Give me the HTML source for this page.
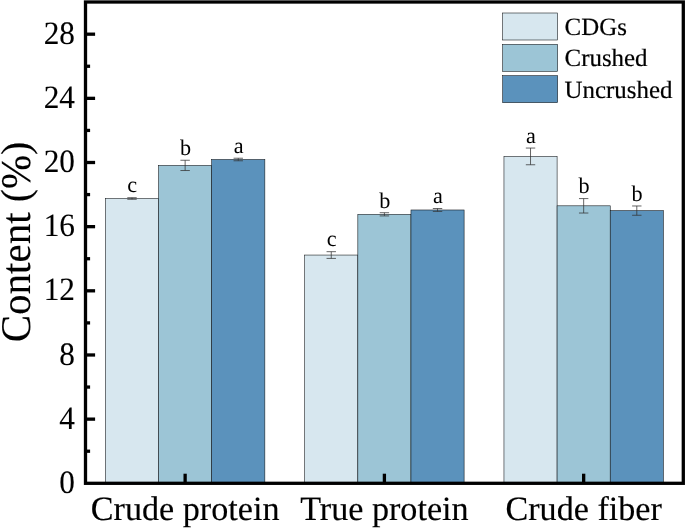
<!DOCTYPE html>
<html lang="en"><head><meta charset="utf-8"><title>Content chart</title>
<style>html,body{margin:0;padding:0;background:#fff}svg{display:block;will-change:transform}text{font-family:"Liberation Serif","DejaVu Serif",serif;fill:#000;text-rendering:geometricPrecision}</style></head><body>
<svg width="685" height="528" viewBox="0 0 685 528">
<rect x="0" y="0" width="685" height="528" fill="#fff"/>
<g stroke="#15191c" stroke-width="0.58">
<rect x="105.43" y="198.49" width="53.14" height="284.81" fill="#D7E7EF"/>
<rect x="158.56" y="165.39" width="53.14" height="317.91" fill="#9CC5D6"/>
<rect x="211.70" y="159.50" width="53.14" height="323.80" fill="#5B92BC"/>
<rect x="304.69" y="255.05" width="53.14" height="228.25" fill="#D7E7EF"/>
<rect x="357.83" y="214.31" width="53.14" height="268.99" fill="#9CC5D6"/>
<rect x="410.97" y="209.98" width="53.14" height="273.32" fill="#5B92BC"/>
<rect x="503.96" y="156.40" width="53.14" height="326.90" fill="#D7E7EF"/>
<rect x="557.10" y="205.81" width="53.14" height="277.49" fill="#9CC5D6"/>
<rect x="610.24" y="210.62" width="53.14" height="272.68" fill="#5B92BC"/>
</g>
<g stroke="#333" stroke-width="0.75" fill="none">
<path d="M132.00 197.69V199.30M127.30 197.69H136.70M127.30 199.30H136.70"/>
<path d="M185.13 160.25V170.52M180.43 160.25H189.83M180.43 170.52H189.83"/>
<path d="M238.27 158.22V160.78M233.57 158.22H242.97M233.57 160.78H242.97"/>
<path d="M331.26 251.68V258.42M326.56 251.68H335.96M326.56 258.42H335.96"/>
<path d="M384.40 212.71V215.91M379.70 212.71H389.10M379.70 215.91H389.10"/>
<path d="M437.54 208.53V211.42M432.84 208.53H442.24M432.84 211.42H442.24"/>
<path d="M530.53 148.06V164.75M525.83 148.06H535.23M525.83 164.75H535.23"/>
<path d="M583.67 198.59V213.03M578.97 198.59H588.37M578.97 213.03H588.37"/>
<path d="M636.80 205.97V215.27M632.10 205.97H641.50M632.10 215.27H641.50"/>
</g>
<g font-size="22.2" text-anchor="middle" stroke="none">
<text x="132.30" y="192.49">c</text>
<text x="185.43" y="155.05">b</text>
<text x="238.57" y="153.02">a</text>
<text x="331.56" y="246.48">c</text>
<text x="384.70" y="207.51">b</text>
<text x="437.84" y="203.33">a</text>
<text x="530.83" y="142.86">a</text>
<text x="583.97" y="193.39">b</text>
<text x="637.10" y="200.77">b</text>
</g>
<g stroke="#000" stroke-width="3.3">
<line x1="85.50" y1="451.22" x2="90.10" y2="451.22"/>
<line x1="85.50" y1="419.14" x2="95.10" y2="419.14"/>
<line x1="85.50" y1="387.06" x2="90.10" y2="387.06"/>
<line x1="85.50" y1="354.98" x2="95.10" y2="354.98"/>
<line x1="85.50" y1="322.90" x2="90.10" y2="322.90"/>
<line x1="85.50" y1="290.82" x2="95.10" y2="290.82"/>
<line x1="85.50" y1="258.74" x2="90.10" y2="258.74"/>
<line x1="85.50" y1="226.66" x2="95.10" y2="226.66"/>
<line x1="85.50" y1="194.58" x2="90.10" y2="194.58"/>
<line x1="85.50" y1="162.50" x2="95.10" y2="162.50"/>
<line x1="85.50" y1="130.42" x2="90.10" y2="130.42"/>
<line x1="85.50" y1="98.34" x2="95.10" y2="98.34"/>
<line x1="85.50" y1="66.26" x2="90.10" y2="66.26"/>
<line x1="85.50" y1="34.18" x2="95.10" y2="34.18"/>
<line x1="185.13" y1="483.30" x2="185.13" y2="473.70"/>
<line x1="384.40" y1="483.30" x2="384.40" y2="473.70"/>
<line x1="583.67" y1="483.30" x2="583.67" y2="473.70"/>
</g>
<rect x="85.50" y="2.00" width="597.80" height="481.30" fill="none" stroke="#000" stroke-width="3.3"/>
<g font-size="32.6" text-anchor="end" stroke="#000" stroke-width="0.12">
<text transform="translate(74.90 492.90) scale(0.96 1)">0</text>
<text transform="translate(74.90 428.74) scale(0.96 1)">4</text>
<text transform="translate(74.90 364.58) scale(0.96 1)">8</text>
<text transform="translate(74.90 300.42) scale(0.96 1)">12</text>
<text transform="translate(74.90 236.26) scale(0.96 1)">16</text>
<text transform="translate(74.90 172.10) scale(0.96 1)">20</text>
<text transform="translate(74.90 107.94) scale(0.96 1)">24</text>
<text transform="translate(74.90 43.78) scale(0.96 1)">28</text>
</g>
<g font-size="34.15" text-anchor="middle" stroke="#000" stroke-width="0.15">
<text x="185.13" y="519.80">Crude protein</text>
<text x="384.40" y="519.80">True protein</text>
<text x="583.67" y="519.80">Crude fiber</text>
</g>
<text font-size="41" stroke="#000" stroke-width="0.1" text-anchor="middle" transform="translate(30.30 242.00) rotate(-90) scale(1 1.03)">Content <tspan font-size="39.5" dy="-1.2">(</tspan><tspan dy="1.2">%</tspan><tspan font-size="39.5" dy="-1.2">)</tspan></text>
<g stroke="#15191c" stroke-width="0.58">
<rect x="502.7" y="13.00" width="55" height="27" fill="#D7E7EF"/>
<rect x="502.7" y="44.35" width="55" height="27" fill="#9CC5D6"/>
<rect x="502.7" y="75.70" width="55" height="27" fill="#5B92BC"/>
</g>
<g font-size="24.9" stroke="#000" stroke-width="0.2">
<text x="564.6" y="34.90">CDGs</text>
<text x="564.6" y="66.25">Crushed</text>
<text x="564.6" y="97.60">Uncrushed</text>
</g>
</svg></body></html>
